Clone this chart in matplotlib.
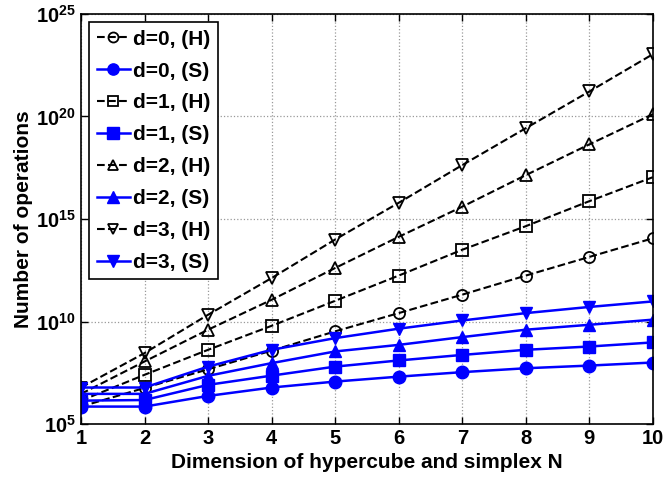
import numpy as np
import matplotlib
matplotlib.use('Agg')
import matplotlib.pyplot as plt
from matplotlib.ticker import FixedLocator, FuncFormatter, NullLocator

plt.rcParams['font.family'] = ['Liberation Sans', 'DejaVu Sans']
plt.rcParams['font.weight'] = 'bold'
plt.rcParams['mathtext.fontset'] = 'custom'
plt.rcParams['mathtext.rm'] = 'Liberation Sans:bold'
plt.rcParams['mathtext.bf'] = 'Liberation Sans:bold'

# dimension N
N = [1, 2, 3, 4, 5, 6, 7, 8, 9, 10]

# log10 of number of operations
h_d0 = [5.85, 6.76, 7.67, 8.58, 9.52, 10.41, 11.31, 12.24, 13.15, 14.06]
s_d0 = [5.85, 5.85, 6.37, 6.78, 7.07, 7.31, 7.53, 7.72, 7.85, 8.00]
h_d1 = [6.14, 7.40, 8.62, 9.79, 11.01, 12.24, 13.50, 14.65, 15.87, 17.04]
s_d1 = [6.14, 6.17, 6.91, 7.36, 7.80, 8.10, 8.37, 8.62, 8.78, 8.98]
h_d2 = [6.47, 8.05, 9.60, 11.06, 12.61, 14.13, 15.60, 17.14, 18.64, 20.11]
s_d2 = [6.47, 6.47, 7.35, 7.97, 8.54, 8.86, 9.24, 9.60, 9.84, 10.09]
h_d3 = [6.78, 8.46, 10.33, 12.12, 14.00, 15.79, 17.63, 19.43, 21.22, 23.04]
s_d3 = [6.78, 6.78, 7.80, 8.62, 9.19, 9.65, 10.05, 10.41, 10.71, 10.98]

series = [
    ('d=0, (H)', h_d0, 'o', 'H'), ('d=0, (S)', s_d0, 'o', 'S'),
    ('d=1, (H)', h_d1, 's', 'H'), ('d=1, (S)', s_d1, 's', 'S'),
    ('d=2, (H)', h_d2, '^', 'H'), ('d=2, (S)', s_d2, '^', 'S'),
    ('d=3, (H)', h_d3, 'v', 'H'), ('d=3, (S)', s_d3, 'v', 'S'),
]

fig = plt.figure(figsize=(6.65, 4.79), dpi=100)
ax = fig.add_axes([0.1218, 0.1148, 0.860, 0.856])

for label, vals, mk, kind in series:
    y = 10.0 ** np.array(vals)
    if kind == 'H':
        ax.plot(N, y, linestyle='--', color='black', linewidth=1.5,
                marker=mk, markersize=8, markerfacecolor='none',
                markeredgecolor='black', markeredgewidth=1.3, label=label)
    else:
        ax.plot(N, y, linestyle='-', color='#0000ff', linewidth=1.8,
                marker=mk, markersize=9, markerfacecolor='#0000ff',
                markeredgecolor='#0000ff', label=label)

ax.set_yscale('log')
ax.set_xlim(1, 10)
ax.set_ylim(1e5, 1e25)
ax.set_xticks(N)
ax.yaxis.set_major_locator(FixedLocator([1e5, 1e10, 1e15, 1e20, 1e25]))
ax.yaxis.set_minor_locator(NullLocator())
ax.yaxis.set_major_formatter(FuncFormatter(
    lambda v, p: r'$\mathbf{10^{%d}}$' % round(np.log10(v))))
ax.tick_params(direction='in', top=True, right=True, labelsize=14.5,
               length=5, width=1)
for lab in ax.get_xticklabels():
    lab.set_fontweight('bold')
ax.grid(True, linestyle=':', color='#999999', linewidth=0.9)
for sp in ax.spines.values():
    sp.set_linewidth(1.2)

ax.set_xlabel('Dimension of hypercube and simplex N', fontsize=15,
              fontweight='bold', labelpad=4)
ax.set_ylabel('Number of operations', fontsize=15, fontweight='bold',
              labelpad=2)

leg = ax.legend(loc='upper left', fontsize=15, handlelength=1.6,
                handletextpad=0.15, borderpad=0.35, labelspacing=0.62,
                fancybox=False, framealpha=1, edgecolor='black',
                borderaxespad=0.4, markerscale=0.9)
leg.get_frame().set_linewidth(1.2)

fig.savefig('out.png', dpi=100)
